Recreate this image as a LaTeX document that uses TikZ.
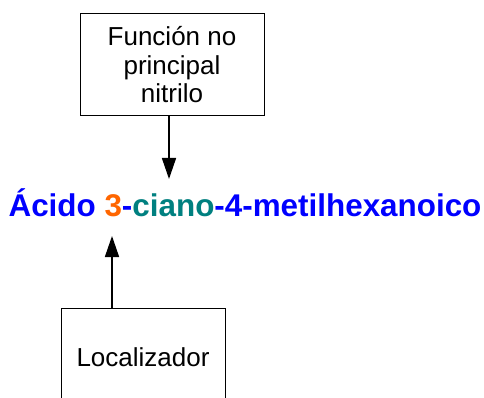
\documentclass[tikz,border=0pt]{standalone}
\usepackage{fontspec}
\setmainfont{Liberation Sans}
\usetikzlibrary{arrows.meta,positioning}
\definecolor{numnaranja}{RGB}{255,102,0}
\definecolor{verdeciano}{RGB}{0,128,128}
\definecolor{azulnombre}{RGB}{0,0,255}

\begin{document}
\begin{tikzpicture}[x=1pt, y=-1pt,
    caja/.style={draw, line width=1pt, align=center, inner sep=0pt,
                 font=\fontsize{26}{28.5}\selectfont},
    flecha/.style={line width=1.6pt, -{Triangle[length=21pt, width=14pt]}}]
  \clip (0,0) rectangle (484,398);
  \fill[white] (0,0) rectangle (484,398);
  \node[caja, minimum width=184pt, minimum height=102pt] (funcion) at (172,65)
       {Función no\\principal\\nitrilo};
  \node[anchor=base, font=\fontsize{31.4}{36}\selectfont\bfseries, azulnombre] (nombre) at (245,216)
       {Ácido \textcolor{numnaranja}{3}-\textcolor{verdeciano}{ciano}-4-metilhexanoico};
  \node[caja, minimum width=164pt, minimum height=98pt] (localizador) at (143,357) {Localizador};
  \coordinate (puntaA) at (169,179);
  \coordinate (puntaB) at (112,236);
  \draw[flecha] (funcion.south -| puntaA) -- (puntaA);
  \draw[flecha] (localizador.north -| puntaB) -- (puntaB);
\end{tikzpicture}
\end{document}
